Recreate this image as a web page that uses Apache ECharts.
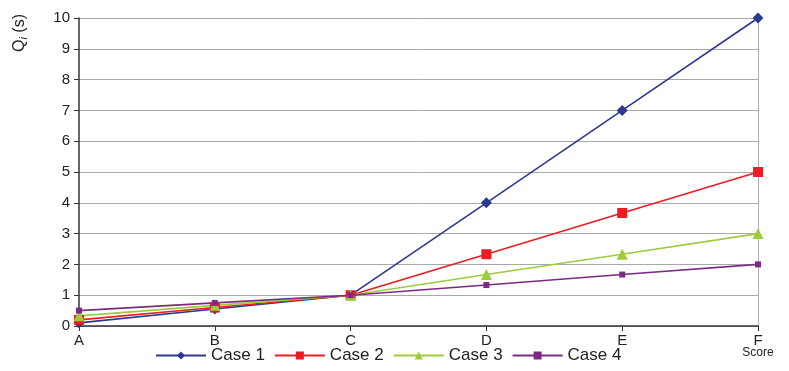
<!DOCTYPE html>
<html>
<head>
<meta charset="utf-8">
<script src="https://cdn.jsdelivr.net/npm/echarts@6/dist/echarts.min.js"></script>
<style>
html,body{margin:0;padding:0;background:#fff;}
#chart{width:789px;height:371px;}
</style>
</head>
<body>
<div id="chart"></div>
<script>
const categories = ['A', 'B', 'C', 'D', 'E', 'F'];
const case1 = [0.1, 0.55, 1, 4, 7, 10];
const case2 = [0.2, 0.6, 1, 2.33, 3.67, 5];
const case3 = [0.33, 0.67, 1, 1.67, 2.33, 3];
const case4 = [0.5, 0.75, 1, 1.33, 1.67, 2];
const seriesNames = ['Case 1', 'Case 2', 'Case 3', 'Case 4'];
const xAxisTitle = 'Score';

const font = 'Liberation Sans, Arial, sans-serif';
const chart = echarts.init(document.getElementById('chart'), null, {renderer: 'canvas'});

function mk(name, data, color, symbol, size) {
  return {
    name: name, type: 'line', data: data,
    symbol: symbol, symbolSize: size, showSymbol: true,
    lineStyle: {color: color, width: 1.6},
    itemStyle: {color: color},
    animation: false
  };
}

chart.setOption({
  animation: false,
  backgroundColor: '#fff',
  grid: {left: 79, right: 31, top: 18, bottom: 45, containLabel: false, outerBoundsMode: 'none'},
  legend: {
    data: seriesNames,
    left: 150, top: 342,
    itemWidth: 50, itemHeight: 10, itemGap: 9,
    textStyle: {fontFamily: font, fontSize: 17, color: '#222'}
  },
  xAxis: {
    type: 'category', data: categories, boundaryGap: false,
    axisLine: {lineStyle: {color: '#333', width: 1.5}},
    axisTick: {show: true, length: 5, lineStyle: {color: '#333'}},
    axisLabel: {fontFamily: font, fontSize: 15, color: '#222', margin: 7},
    splitLine: {show: false}
  },
  yAxis: [{
    type: 'value', min: 0, max: 10, interval: 1,
    axisLine: {show: true, lineStyle: {color: '#333', width: 1.5}},
    axisTick: {show: true, length: 5, lineStyle: {color: '#333'}},
    axisLabel: {fontFamily: font, fontSize: 15, color: '#222', margin: 9},
    splitLine: {show: true, lineStyle: {color: '#a8a8a8', width: 1}}
  }, {
    type: 'value', min: 0, max: 10, interval: 1, position: 'right',
    axisLine: {show: true, lineStyle: {color: '#b0b0b0', width: 1}},
    axisTick: {show: false}, axisLabel: {show: false}, splitLine: {show: false}
  }],
  graphic: [{
    type: 'text',
    x: 20, y: 33, rotation: Math.PI / 2,
    style: {
      text: '{q|Q}{i|i}{s| (s)}',
      align: 'center', verticalAlign: 'middle',
      rich: {
        q: {fontFamily: font, fontSize: 16, fill: '#222'},
        i: {fontFamily: font, fontSize: 11, fontStyle: 'italic', fill: '#222', padding: [8, 0, 0, 0]},
        s: {fontFamily: font, fontSize: 16, fill: '#222'}
      }
    }
  }, {
    type: 'text',
    x: 758, y: 353,
    style: {
      text: xAxisTitle, fontFamily: font, fontSize: 12, fill: '#222',
      align: 'center', verticalAlign: 'middle'
    }
  }],
  series: [
    mk('Case 1', case1, '#2b3a8f', 'diamond', 11),
    mk('Case 2', case2, '#ec1c24', 'rect', 10),
    mk('Case 3', case3, '#9ccb3b', 'triangle', 11),
    mk('Case 4', case4, '#7b2c82', 'rect', 6)
  ]
});
</script>
</body>
</html>
